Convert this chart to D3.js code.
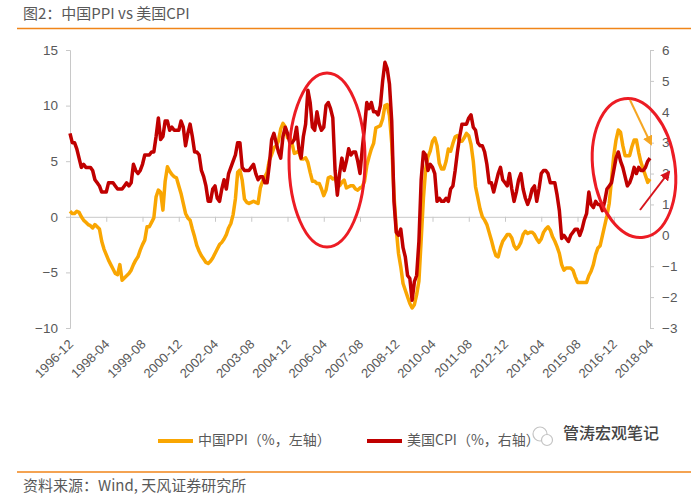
<!DOCTYPE html>
<html>
<head>
<meta charset="utf-8">
<script src="https://cdn.jsdelivr.net/npm/d3@7/dist/d3.min.js"></script>
<style>
  body { margin: 0; background: #fff; }
  svg { display: block; }
  .tick text { font-family: "Liberation Sans", Arial, sans-serif; }
</style>
</head>
<body>
<div id="container"></div>
<script>
// monthly, 1996-12 .. 2018-04
const startMonth = new Date(1996, 11, 1);
const monthCount = 257;

const tickLabels = ['1996-12', '1998-04', '1999-08', '2000-12', '2002-04', '2003-08', '2004-12', '2006-04',
  '2007-08', '2008-12', '2010-04', '2011-08', '2012-12', '2014-04', '2015-08', '2016-12', '2018-04'];

// 中国PPI 同比 (%)
const ppi = [].concat(
  [0.5],
  [0.3, 0.3, 0.5, 0.4, 0.0, -0.3, -0.5, -0.7, -0.8, -1.0, -0.7, -0.9],
  [-1.1, -2.2, -2.9, -3.4, -3.9, -4.3, -4.7, -5.1, -5.2, -4.3, -5.7, -5.5],
  [-5.3, -5.1, -4.8, -4.3, -3.9, -3.6, -3.0, -2.5, -2.1, -0.9, -0.9, -0.5],
  [-0.1, 1.8, 2.4, 2.2, 0.6, 3.2, 4.5, 4.1, 3.8, 3.6, 3.5, 2.8],
  [2.1, 1.2, 0.3, -0.1, -0.3, -1.1, -1.8, -2.6, -3.1, -3.5, -3.8, -4.1],
  [-4.2, -4.0, -3.7, -3.3, -2.9, -2.5, -2.3, -2.0, -1.6, -1.0, -0.6, 0.2],
  [1.6, 4.0, 4.2, 3.3, 1.6, 1.3, 1.2, 1.3, 1.4, 1.3, 1.2, 2.6],
  [3.2, 3.6, 4.0, 5.1, 5.6, 6.2, 6.4, 6.8, 7.9, 8.4, 8.1, 7.1],
  [7.2, 6.6, 5.7, 5.8, 5.9, 5.2, 5.2, 5.3, 4.9, 4.0, 3.2, 3.2],
  [3.0, 3.0, 2.5, 1.9, 2.4, 3.5, 3.6, 3.4, 3.5, 2.9, 2.8, 3.1],
  [3.3, 2.6, 2.7, 2.8, 2.8, 2.5, 2.4, 2.6, 2.7, 3.2, 4.6, 5.4],
  [6.1, 6.6, 8.0, 8.1, 8.2, 8.8, 10.0, 10.1, 9.1, 6.6, 2.0, -1.1],
  [-3.3, -4.5, -6.0, -6.6, -7.2, -7.8, -8.2, -7.9, -7.0, -5.8, -2.1, 1.7],
  [4.3, 5.4, 5.9, 6.8, 7.1, 6.4, 4.8, 4.3, 4.3, 5.0, 6.1, 5.9],
  [6.6, 7.2, 7.3, 6.8, 6.8, 7.1, 7.5, 7.3, 6.5, 5.0, 2.7, 1.7],
  [0.7, 0.0, -0.3, -0.7, -1.4, -2.1, -2.9, -3.5, -3.6, -2.8, -2.2, -1.9],
  [-1.6, -1.6, -1.9, -2.6, -2.9, -2.7, -2.3, -1.6, -1.3, -1.5, -1.4, -1.4],
  [-1.6, -2.0, -2.3, -2.0, -1.4, -1.1, -0.9, -1.2, -1.8, -2.2, -2.7, -3.3],
  [-4.3, -4.8, -4.6, -4.6, -4.6, -4.8, -5.4, -5.9, -5.9, -5.9, -5.9, -5.9],
  [-5.3, -4.9, -4.3, -3.4, -2.8, -2.6, -1.7, -0.8, 0.1, 1.2, 3.3, 5.5],
  [6.9, 7.8, 7.6, 6.4, 5.5, 5.5, 5.5, 6.3, 6.9, 6.9, 5.8, 4.9],
  [4.3, 3.7, 3.1, 3.4]
);

// 美国CPI 同比 (%)
const cpi = [].concat(
  [3.3],
  [3.0, 3.0, 2.8, 2.5, 2.2, 2.3, 2.2, 2.2, 2.2, 2.1, 1.8, 1.7],
  [1.6, 1.4, 1.4, 1.4, 1.7, 1.7, 1.7, 1.6, 1.5, 1.5, 1.5, 1.6],
  [1.7, 1.6, 1.7, 2.3, 2.1, 2.0, 2.1, 2.3, 2.6, 2.6, 2.6, 2.7],
  [2.7, 3.2, 3.8, 3.1, 3.2, 3.7, 3.7, 3.4, 3.5, 3.4, 3.4, 3.4],
  [3.7, 3.5, 2.9, 3.3, 3.6, 3.2, 2.7, 2.7, 2.6, 2.1, 1.9, 1.6],
  [1.1, 1.1, 1.5, 1.6, 1.2, 1.1, 1.5, 1.8, 1.5, 2.0, 2.2, 2.4],
  [2.6, 3.0, 3.0, 2.2, 2.1, 2.1, 2.1, 2.2, 2.3, 2.0, 1.8, 1.9],
  [1.9, 1.7, 1.7, 2.3, 3.1, 3.3, 3.0, 2.7, 2.5, 3.2, 3.5, 3.3],
  [3.0, 3.0, 3.1, 3.5, 2.8, 2.5, 3.2, 3.6, 4.7, 4.3, 3.5, 3.4],
  [4.0, 3.6, 3.4, 3.5, 4.2, 4.3, 4.1, 3.8, 2.1, 1.3, 2.0, 2.5],
  [2.1, 2.4, 2.8, 2.6, 2.7, 2.7, 2.4, 2.0, 2.8, 3.5, 4.3, 4.1],
  [4.3, 4.0, 4.0, 3.9, 4.2, 5.0, 5.6, 5.4, 4.9, 3.7, 1.1, 0.1],
  [0.0, 0.2, -0.4, -0.7, -1.3, -1.4, -2.1, -1.5, -1.3, -0.2, 1.8, 2.7],
  [2.6, 2.1, 2.3, 2.2, 2.0, 1.1, 1.2, 1.1, 1.1, 1.2, 1.1, 1.5],
  [1.6, 2.1, 2.7, 3.2, 3.6, 3.6, 3.6, 3.8, 3.9, 3.5, 3.4, 3.0],
  [2.9, 2.9, 2.7, 2.3, 1.7, 1.7, 1.4, 1.7, 2.0, 2.2, 1.8, 1.7],
  [1.6, 2.0, 1.5, 1.1, 1.4, 1.8, 2.0, 1.5, 1.2, 1.0, 1.2, 1.5],
  [1.6, 1.1, 1.5, 2.0, 2.1, 2.1, 2.0, 1.7, 1.7, 1.7, 1.3, 0.8],
  [-0.1, 0.0, -0.1, -0.2, 0.0, 0.1, 0.2, 0.2, 0.0, 0.2, 0.5, 0.7],
  [1.4, 1.0, 0.9, 1.1, 1.0, 1.0, 0.8, 1.1, 1.5, 1.6, 1.7, 2.1],
  [2.5, 2.7, 2.4, 2.2, 1.9, 1.6, 1.7, 1.9, 2.2, 2.0, 2.2, 2.1],
  [2.1, 2.2, 2.4, 2.5]
);

const leftTicks = [-10, -5, 0, 5, 10, 15];
const rightTicks = [-3, -2, -1, 0, 1, 2, 3, 4, 5, 6];

const categories = d3.timeMonth.range(startMonth, d3.timeMonth.offset(startMonth, monthCount))
  .map(d3.timeFormat('%Y-%m'));

const width = 691;
const height = 497;
const cjk = '"Noto Sans CJK SC", "Noto Sans", sans-serif';
const grey = '#595959';
const axisColor = '#c8c8c8';

const svg = d3.select('#container')
  .append('svg')
  .attr('width', width)
  .attr('height', height);

// header & footer
svg.append('text')
  .attr('x', 23).attr('y', 15)
  .attr('dominant-baseline', 'middle')
  .style('font-family', cjk).style('font-size', '15px').style('fill', grey)
  .text('图2：中国PPI vs 美国CPI');

svg.append('line')
  .attr('x1', 17).attr('x2', width).attr('y1', 28.5).attr('y2', 28.5)
  .style('stroke', '#f08519').style('stroke-width', 1.5);

svg.append('line')
  .attr('x1', 17).attr('x2', width).attr('y1', 472).attr('y2', 472)
  .style('stroke', '#f08519').style('stroke-width', 1.5);

svg.append('text')
  .attr('x', 23).attr('y', 487)
  .attr('dominant-baseline', 'middle')
  .style('font-family', cjk).style('font-size', '15px').style('fill', grey)
  .text('资料来源：Wind, 天风证券研究所');

// scales
const x = d3.scaleLinear().domain([0, categories.length - 1]).range([70, 650]);
const yL = d3.scaleLinear().domain([-10, 15]).range([328, 50]);
const yR = d3.scaleLinear().domain([-3, 6]).range([328, 50]);

const styleAxis = g => {
  g.select('.domain').style('stroke', axisColor);
  g.selectAll('.tick line').style('stroke', axisColor);
  g.selectAll('.tick text')
    .style('fill', grey)
    .style('font-size', '13.5px');
};

// left axis
svg.append('g')
  .attr('transform', 'translate(70,0)')
  .call(d3.axisLeft(yL).tickValues(leftTicks).tickSize(4).tickSizeOuter(4).tickPadding(8))
  .call(styleAxis);

// right axis
svg.append('g')
  .attr('transform', 'translate(650,0)')
  .call(d3.axisRight(yR).tickValues(rightTicks).tickSize(4).tickSizeOuter(4).tickPadding(8))
  .call(styleAxis);

// category axis on left zero line
const tickIdx = tickLabels.map(t => categories.indexOf(t));

svg.append('g')
  .attr('transform', `translate(0,${yL(0)})`)
  .call(d3.axisBottom(x).tickValues(tickIdx).tickSize(5).tickSizeOuter(0).tickFormat(''))
  .call(styleAxis);

svg.append('g')
  .selectAll('text')
  .data(tickIdx)
  .enter()
  .append('text')
  .attr('transform', d => `translate(${x(d) + 4},345) rotate(-45)`)
  .attr('text-anchor', 'end')
  .style('font-family', '"Liberation Sans", Arial, sans-serif')
  .style('font-size', '13px')
  .style('fill', grey)
  .text(d => categories[d]);

// lines
const ppiLine = d3.line().x((d, i) => x(i)).y(d => yL(d));
const cpiLine = d3.line().x((d, i) => x(i)).y(d => yR(d));

svg.append('path')
  .datum(ppi)
  .attr('d', ppiLine)
  .style('fill', 'none')
  .style('stroke', '#f9a602')
  .style('stroke-width', 3.5)
  .style('stroke-linejoin', 'round');

svg.append('path')
  .datum(cpi)
  .attr('d', cpiLine)
  .style('fill', 'none')
  .style('stroke', '#c00000')
  .style('stroke-width', 3.5)
  .style('stroke-linejoin', 'round');

// annotations
const notes = svg.append('g').style('fill', 'none');

notes.append('ellipse')
  .attr('cx', 327).attr('cy', 160).attr('rx', 38).attr('ry', 87)
  .style('stroke', '#ec1c24').style('stroke-width', 3);

notes.append('ellipse')
  .attr('transform', 'translate(634,168) rotate(-8)')
  .attr('rx', 41).attr('ry', 70)
  .style('stroke', '#ec1c24').style('stroke-width', 3);

const defs = svg.append('defs');
[['arrowOrange', '#f5a623'], ['arrowRed', '#d7141c']].forEach(([id, c]) => {
  defs.append('marker')
    .attr('id', id)
    .attr('viewBox', '0 0 10 10')
    .attr('refX', 8).attr('refY', 5)
    .attr('markerWidth', 5).attr('markerHeight', 5)
    .attr('orient', 'auto')
    .append('path')
    .attr('d', 'M0,0 L10,5 L0,10 z')
    .style('fill', c);
});

notes.append('line')
  .attr('x1', 630).attr('y1', 100).attr('x2', 651).attr('y2', 144)
  .style('stroke', '#f5a623').style('stroke-width', 2)
  .attr('marker-end', 'url(#arrowOrange)');

notes.append('line')
  .attr('x1', 640).attr('y1', 210).attr('x2', 669).attr('y2', 172)
  .style('stroke', '#d7141c').style('stroke-width', 2)
  .attr('marker-end', 'url(#arrowRed)');

// legend
const legendItems = [
  { name: '中国PPI（%，左轴）', color: '#f9a602', x: 158 },
  { name: '美国CPI（%，右轴）', color: '#c00000', x: 367 }
];

const legend = svg.append('g');
legend.selectAll('line')
  .data(legendItems)
  .enter()
  .append('line')
  .attr('x1', d => d.x).attr('x2', d => d.x + 35)
  .attr('y1', 441).attr('y2', 441)
  .style('stroke', d => d.color).style('stroke-width', 4);

legend.selectAll('text')
  .data(legendItems)
  .enter()
  .append('text')
  .attr('x', d => d.x + 40).attr('y', 441)
  .attr('dominant-baseline', 'middle')
  .style('font-family', cjk).style('font-size', '14px').style('fill', grey)
  .text(d => d.name);

// watermark
const wm = svg.append('g');
wm.append('circle').attr('cx', 540).attr('cy', 434).attr('r', 7)
  .style('fill', '#fff').style('stroke', '#c4c4c4').style('stroke-width', 1.2);
wm.append('circle').attr('cx', 547).attr('cy', 440).attr('r', 5.5)
  .style('fill', '#fff').style('stroke', '#c4c4c4').style('stroke-width', 1.2);
wm.append('text')
  .attr('x', 563).attr('y', 435)
  .attr('dominant-baseline', 'middle')
  .style('font-family', cjk).style('font-size', '16px').style('font-weight', 500)
  .style('fill', '#444')
  .text('管涛宏观笔记');
</script>
</body>
</html>
